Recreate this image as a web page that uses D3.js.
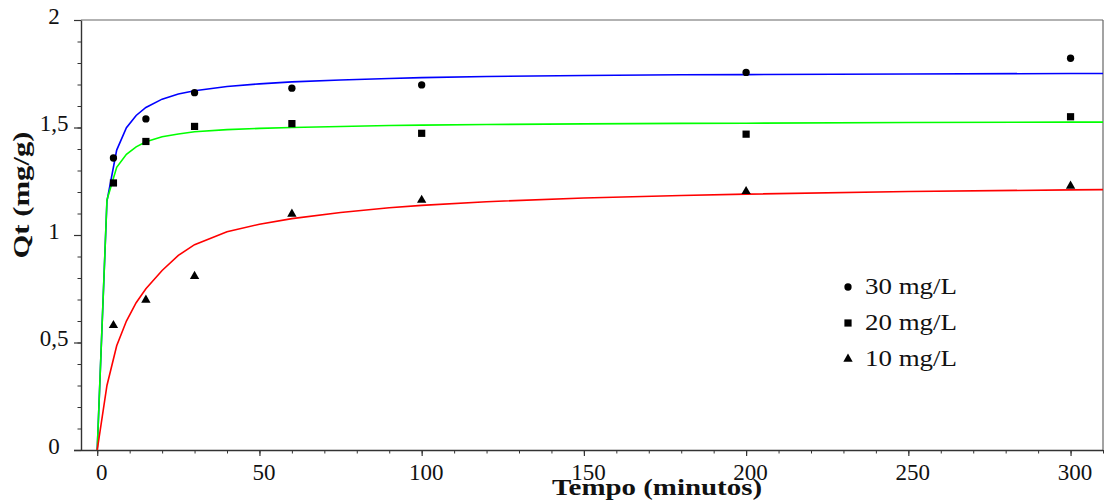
<!DOCTYPE html>
<html>
<head>
<meta charset="utf-8">
<script src="https://cdn.jsdelivr.net/npm/d3@7"></script>
<style>
  html, body { margin: 0; padding: 0; background: #fff; }
  svg { display: block; }
  text { font-family: "Liberation Serif", "Times New Roman", serif; fill: #111; }
</style>
</head>
<body>
<svg id="chart" width="1107" height="503"></svg>
<script>
// ---- data ----
const fitTimes = [0, 3, 6, 9, 12, 15, 20, 25, 30, 40, 50, 60, 75, 90, 100, 120, 150, 180, 200, 250, 300, 310];
const fit30 = [0, 1.158, 1.395, 1.499, 1.556, 1.593, 1.632, 1.656, 1.671, 1.691, 1.703, 1.712, 1.721, 1.728, 1.732, 1.737, 1.742, 1.745, 1.746, 1.749, 1.751, 1.751];
const fit20 = [0, 1.163, 1.315, 1.375, 1.410, 1.434, 1.457, 1.470, 1.480, 1.490, 1.496, 1.500, 1.505, 1.509, 1.511, 1.514, 1.517, 1.519, 1.520, 1.523, 1.525, 1.525];
const fit10 = [0, 0.300, 0.485, 0.600, 0.685, 0.750, 0.835, 0.905, 0.955, 1.015, 1.050, 1.076, 1.105, 1.127, 1.138, 1.155, 1.172, 1.184, 1.190, 1.202, 1.210, 1.211];

const expTimes = [5, 15, 30, 60, 100, 200, 300];
const exp30 = [1.358, 1.540, 1.662, 1.683, 1.698, 1.756, 1.822];
const exp20 = [1.242, 1.435, 1.505, 1.518, 1.473, 1.469, 1.550];
const exp10 = [0.580, 0.698, 0.808, 1.098, 1.162, 1.203, 1.228];

const seriesNames = ["30 mg/L", "20 mg/L", "10 mg/L"];
const lineColors = ["#0000ff", "#00ff00", "#ff0000"];

const xTickValues = [0, 50, 100, 150, 200, 250, 300];
const xMinorValues = d3.range(0, 311, 10);
const yTickValues = [0, 0.5, 1, 1.5, 2];
const yTickLabels = ["0", "0,5", "1", "1,5", "2"];
const yMinorValues = d3.range(0, 21).map(d => d / 10);

const xTitle = "Tempo (minutos)";
const yTitle = "Qt (mg/g)";

// ---- layout ----
const svg = d3.select("#chart");
const L = 81, R = 1103, T = 20, B = 450;
const x = d3.scaleLinear().domain([-5, 310]).range([L, R]);
const y = d3.scaleLinear().domain([0, 2]).range([B, T]);

svg.append("defs").append("clipPath").attr("id", "clip")
  .append("rect").attr("x", L).attr("y", T).attr("width", R - L).attr("height", B - T);

// frame top / right
svg.append("line").attr("x1", L).attr("x2", R).attr("y1", T).attr("y2", T)
  .attr("stroke", "#666").attr("stroke-width", 1.2);
svg.append("line").attr("x1", R).attr("x2", R).attr("y1", T).attr("y2", B)
  .attr("stroke", "#666").attr("stroke-width", 1.2);

// minor ticks
svg.append("g").attr("transform", `translate(0,${B})`)
  .call(d3.axisBottom(x).tickValues(xMinorValues).tickSize(3.5).tickFormat(""))
  .call(g => g.select(".domain").remove())
  .call(g => g.selectAll("line").attr("stroke", "#333").attr("stroke-width", 1));
svg.append("g").attr("transform", `translate(${L},0)`)
  .call(d3.axisLeft(y).tickValues(yMinorValues).tickSize(3.5).tickFormat(""))
  .call(g => g.select(".domain").remove())
  .call(g => g.selectAll("line").attr("stroke", "#333").attr("stroke-width", 1));

// major x axis
const xAxis = svg.append("g").attr("transform", `translate(0,${B})`)
  .call(d3.axisBottom(x).tickValues(xTickValues).tickSize(6).tickSizeOuter(0).tickPadding(7));
xAxis.select(".domain").attr("d", `M${L - 7},0.5H${R}`).attr("stroke", "#333").attr("stroke-width", 1.4);
xAxis.selectAll("line").attr("stroke", "#333").attr("stroke-width", 1.2);
xAxis.selectAll("text").attr("font-size", 23).attr("font-family", "Liberation Serif")
  .attr("fill", "#111").attr("dx", 4).attr("dy", "0.75em");

// major y axis
const yAxis = svg.append("g").attr("transform", `translate(${L},0)`)
  .call(d3.axisLeft(y).tickValues(yTickValues).tickSize(7).tickSizeOuter(0)
    .tickFormat((d, i) => yTickLabels[i]));
yAxis.select(".domain").attr("stroke", "#333").attr("stroke-width", 1.4);
yAxis.selectAll("line").attr("stroke", "#333").attr("stroke-width", 1.2);
yAxis.selectAll("text").attr("font-size", 23).attr("font-family", "Liberation Serif")
  .attr("fill", "#111").attr("text-anchor", "middle").attr("x", -27).attr("dy", "0.13em");

// fitted curves
const fits = [fit30, fit20, fit10];
const lineGen = d3.line().x(d => x(d[0])).y(d => y(d[1]));
const plot = svg.append("g").attr("clip-path", "url(#clip)");
fits.forEach((vals, i) => {
  plot.append("path")
    .datum(fitTimes.map((t, j) => [t, vals[j]]))
    .attr("d", lineGen)
    .attr("fill", "none")
    .attr("stroke", lineColors[i])
    .attr("stroke-width", 1.6);
});

// experimental points
const symbols = [d3.symbolCircle, d3.symbolSquare, d3.symbolTriangle];
const symSizes = [42, 52, 38];
const exps = [exp30, exp20, exp10];
exps.forEach((vals, i) => {
  const sym = d3.symbol().type(symbols[i]).size(symSizes[i]);
  svg.append("g").selectAll("path")
    .data(expTimes.map((t, j) => [t, vals[j]]))
    .join("path")
    .attr("transform", d => `translate(${x(d[0])},${y(d[1])})`)
    .attr("d", sym)
    .attr("fill", "#000");
});

// legend
const legend = svg.append("g");
seriesNames.forEach((name, i) => {
  const cy = 287 + i * 36;
  legend.append("path")
    .attr("transform", `translate(848,${cy})`)
    .attr("d", d3.symbol().type(symbols[i]).size(symSizes[i])())
    .attr("fill", "#000");
  legend.append("text")
    .attr("x", 865).attr("y", cy + 7)
    .attr("font-size", 23)
    .attr("textLength", 92).attr("lengthAdjust", "spacingAndGlyphs")
    .text(name);
});

// axis titles
svg.append("text")
  .attr("x", 657).attr("y", 495)
  .attr("text-anchor", "middle")
  .attr("font-size", 24).attr("font-weight", "bold")
  .attr("textLength", 210).attr("lengthAdjust", "spacingAndGlyphs")
  .text(xTitle);

svg.append("text")
  .attr("transform", "translate(29,195) rotate(-90)")
  .attr("text-anchor", "middle")
  .attr("font-size", 24).attr("font-weight", "bold")
  .attr("textLength", 127).attr("lengthAdjust", "spacingAndGlyphs")
  .text(yTitle);
</script>
</body>
</html>
